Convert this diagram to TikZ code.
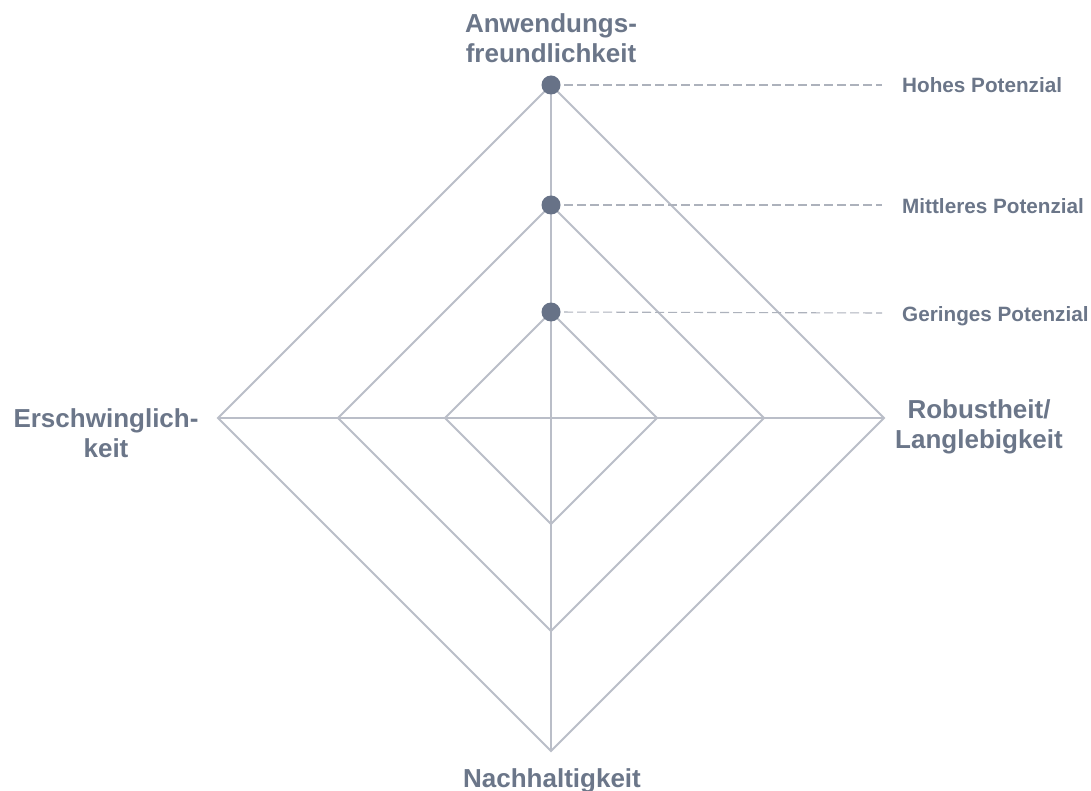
\documentclass[tikz,border=0pt]{standalone}
\usepackage{fontspec}
\setmainfont{Liberation Sans}
\usetikzlibrary{calc}
\definecolor{labelgray}{HTML}{6B7689}
\definecolor{gridgray}{HTML}{BABEC8}
\definecolor{dotgray}{HTML}{677287}
\definecolor{guidegray}{HTML}{ADB2BC}
\tikzset{
  grid line/.style={draw=gridgray, line width=2pt, line join=miter},
  guide/.style={draw=guidegray, line width=1.1pt, dash pattern=on 9pt off 4pt},
  level dot/.style={circle, fill=dotgray, inner sep=0pt, minimum size=19pt},
  axis label/.style={text=labelgray, font=\fontsize{26}{30}\selectfont\bfseries, inner sep=0pt, align=center, anchor=base},
  level label/.style={text=labelgray, font=\fontsize{20.7}{24}\selectfont\bfseries, inner sep=0pt, anchor=base west},
}
\begin{document}
\begin{tikzpicture}[x=1pt, y=-1pt]
\useasboundingbox (0,0) rectangle (1091,791);
\fill[white] (0,0) rectangle (1091,791);

% centre of the chart and the three rings
\coordinate (c) at (551,418);
\foreach \r/\n in {106/inner, 213/mid, 333/outer} {
  \coordinate (\n-t) at ($(c)+(0,-\r)$);
  \coordinate (\n-r) at ($(c)+(\r,0)$);
  \coordinate (\n-b) at ($(c)+(0,\r)$);
  \coordinate (\n-l) at ($(c)+(-\r,0)$);
  \draw[grid line] (\n-t) -- (\n-r) -- (\n-b) -- (\n-l) -- cycle;
}

% axes
\draw[grid line] (outer-t) -- (outer-b);
\draw[grid line] (outer-l) -- (outer-r);

% level markers with guide lines
\coordinate (g-hoch) at (882,85);
\coordinate (g-mittel) at (882,205);
\coordinate (g-gering) at (882,313);
\draw[guide] (outer-t) -- (g-hoch);
\draw[guide] (mid-t) -- (g-mittel);
\draw[guide] (inner-t) -- (g-gering);
\node[level dot] (dot-hoch) at (outer-t) {};
\node[level dot] (dot-mittel) at (mid-t) {};
\node[level dot] (dot-gering) at (inner-t) {};

\node[level label] (lab-hoch) at (902,93) {Hohes Potenzial};
\node[level label] (lab-mittel) at (902,214) {Mittleres Potenzial};
\node[level label] (lab-gering) at (902,321) {Geringes Potenzial};

% axis labels (anchored at the baseline of their last line)
\node[axis label] (ax-top) at (551,63) {Anwendungs-\\freundlichkeit};
\node[axis label] (ax-left) at (106,457) {Erschwinglich-\\keit};
\node[axis label] (ax-right) at (979,448) {Robustheit/\\Langlebigkeit};
\node[axis label] (ax-bottom) at (552,787) {Nachhaltigkeit};
\end{tikzpicture}
\end{document}
